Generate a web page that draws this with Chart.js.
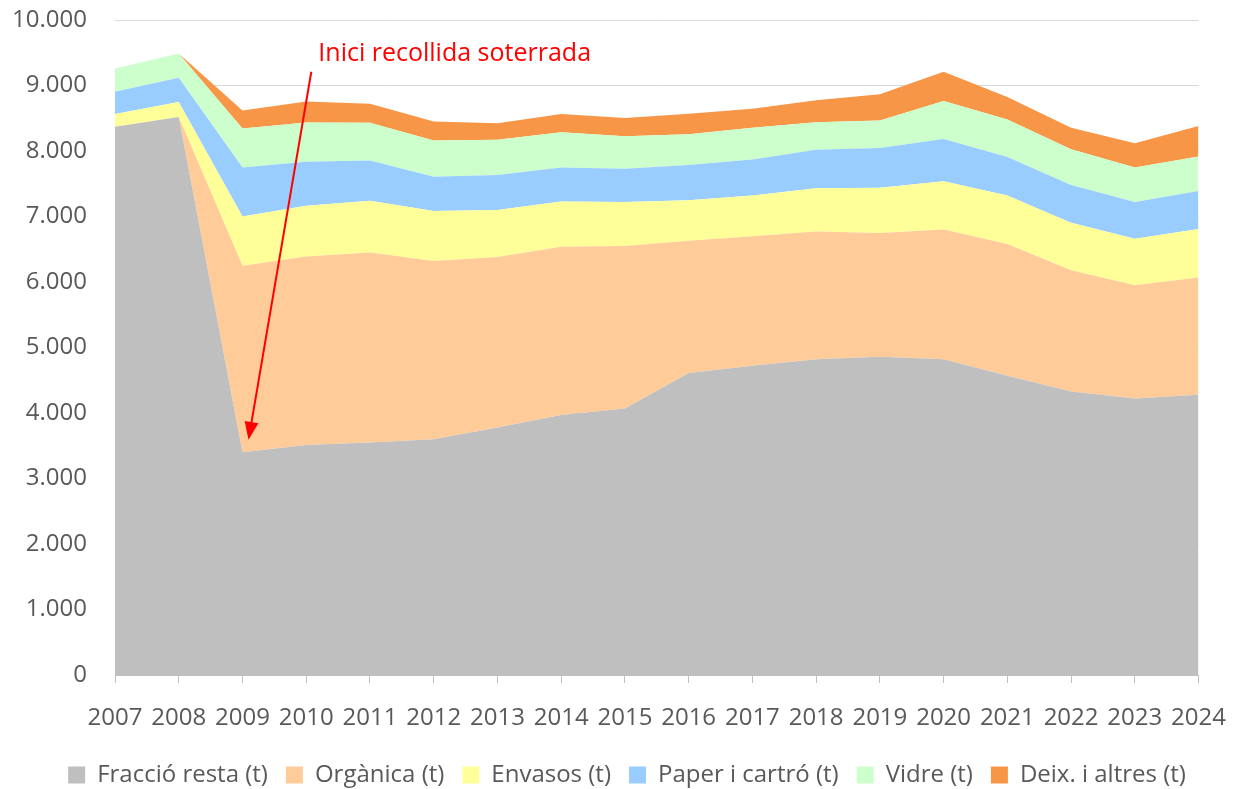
<!DOCTYPE html>
<html>
<head>
<meta charset="utf-8">
<script src="https://cdn.jsdelivr.net/npm/chart.js@4"></script>
<style>
  body { margin: 0; background: #fff; }
  #wrap { width: 1247px; height: 789px; }
</style>
</head>
<body>
<div id="wrap"><canvas id="residusChart"></canvas></div>
<script>
const years = ['2007', '2008', '2009', '2010', '2011', '2012', '2013', '2014', '2015',
    '2016', '2017', '2018', '2019', '2020', '2021', '2022', '2023', '2024'];

// tones per year
const resta   = [8370, 8520, 3400, 3510, 3550, 3600, 3780, 3970, 4070, 4610, 4720, 4820, 4860, 4820, 4570, 4330, 4220, 4280];
const organica = [0, 0, 2850, 2880, 2900, 2720, 2600, 2570, 2480, 2020, 1980, 1950, 1890, 1980, 2010, 1850, 1730, 1790];
const envasos = [195, 230, 750, 775, 790, 765, 720, 690, 670, 620, 620, 660, 690, 740, 740, 725, 710, 740];
const paper   = [340, 370, 750, 670, 615, 520, 535, 520, 510, 535, 550, 590, 605, 645, 590, 575, 560, 580];
const vidre   = [355, 370, 595, 600, 575, 555, 535, 535, 495, 470, 485, 420, 420, 580, 570, 545, 530, 525];
const deix    = [0, 0, 275, 320, 290, 290, 255, 280, 280, 315, 290, 335, 400, 445, 345, 330, 370, 465];

const yTicks = [0, 1000, 2000, 3000, 4000, 5000, 6000, 7000, 8000, 9000, 10000];

const noteText = 'Inici recollida soterrada';

const fontFamily = '"Open Sans", "Noto Sans", sans-serif';
const textColor = '#595959';

function area(label, data, color, fill) {
    return {
        label: label,
        data: data,
        backgroundColor: color,
        borderColor: color,
        borderWidth: 0,
        pointRadius: 0,
        pointHoverRadius: 0,
        tension: 0,
        fill: fill
    };
}

// red note with arrow pointing at 2009
const notePlugin = {
    id: 'notePlugin',
    afterDraw(chart) {
        const x = chart.scales.x;
        const y = chart.scales.y;
        const c = chart.ctx;
        c.save();
        c.fillStyle = '#ff0000';
        c.font = '25px ' + fontFamily;
        c.textBaseline = 'middle';
        c.fillText(noteText, x.getPixelForValue(3.19), y.getPixelForValue(9480));

        const x0 = x.getPixelForValue(3.08), y0 = y.getPixelForValue(9210);
        const x1 = x.getPixelForValue(2.1), y1 = y.getPixelForValue(3620);
        c.strokeStyle = '#ff0000';
        c.lineWidth = 2;
        c.beginPath();
        c.moveTo(x0, y0);
        c.lineTo(x1, y1);
        c.stroke();
        const ang = Math.atan2(y1 - y0, x1 - x0);
        const len = 16, w = 7;
        c.beginPath();
        c.moveTo(x1 + Math.cos(ang) * 2, y1 + Math.sin(ang) * 2);
        c.lineTo(x1 - Math.cos(ang) * len - Math.sin(ang) * w, y1 - Math.sin(ang) * len + Math.cos(ang) * w);
        c.lineTo(x1 - Math.cos(ang) * len + Math.sin(ang) * w, y1 - Math.sin(ang) * len - Math.cos(ang) * w);
        c.closePath();
        c.fill();
        c.restore();
    }
};

const config = {
    type: 'line',
    data: {
        labels: years,
        datasets: [
            area('Fracció resta (t)', resta, '#bfbfbf', 'origin'),
            area('Orgànica (t)', organica, '#ffcc99', '-1'),
            area('Envasos (t)', envasos, '#ffff99', '-1'),
            area('Paper i cartró (t)', paper, '#99ccff', '-1'),
            area('Vidre (t)', vidre, '#ccffcc', '-1'),
            area('Deix. i altres (t)', deix, '#f79646', '-1')
        ]
    },
    options: {
        responsive: true,
        maintainAspectRatio: false,
        animation: false,
        layout: { padding: { top: 20, right: 0, left: 7, bottom: -8 } },
        scales: {
            x: {
                offset: false,
                afterFit(axis) { axis.height = 70; },
                grid: {
                    display: true,
                    drawOnChartArea: false,
                    drawTicks: true,
                    tickLength: 8,
                    color: '#bfbfbf'
                },
                border: { display: true, color: '#bfbfbf' },
                ticks: {
                    color: textColor,
                    font: { family: fontFamily, size: 24 },
                    padding: 21,
                    maxRotation: 0,
                    autoSkip: false
                }
            },
            y: {
                stacked: true,
                min: 0,
                max: 10000,
                afterBuildTicks(axis) {
                    axis.ticks = yTicks.map(v => ({ value: v }));
                },
                afterFit(axis) { axis.width = 108; },
                grid: {
                    color: '#d9d9d9',
                    drawTicks: true,
                    tickLength: 28,
                    tickColor: 'rgba(0,0,0,0)'
                },
                border: { display: false },
                ticks: {
                    color: textColor,
                    font: { family: fontFamily, size: 24 },
                    padding: 0,
                    callback: v => v.toLocaleString('de-DE')
                }
            },
            // empty right-hand strip so the plot ends where the reference does
            yRight: {
                type: 'linear',
                position: 'right',
                display: true,
                afterFit(axis) { axis.width = 45; },
                grid: { display: false, drawTicks: false },
                border: { display: false },
                ticks: { display: false }
            }
        },
        plugins: {
            legend: {
                position: 'bottom',
                labels: {
                    color: textColor,
                    font: { family: fontFamily, size: 24 },
                    boxWidth: 17,
                    boxHeight: 17,
                    padding: 18
                }
            },
            tooltip: { enabled: false }
        }
    },
    plugins: [notePlugin]
};

const ctx = document.getElementById('residusChart').getContext('2d');
const residusChart = new Chart(ctx, config);
</script>
</body>
</html>
